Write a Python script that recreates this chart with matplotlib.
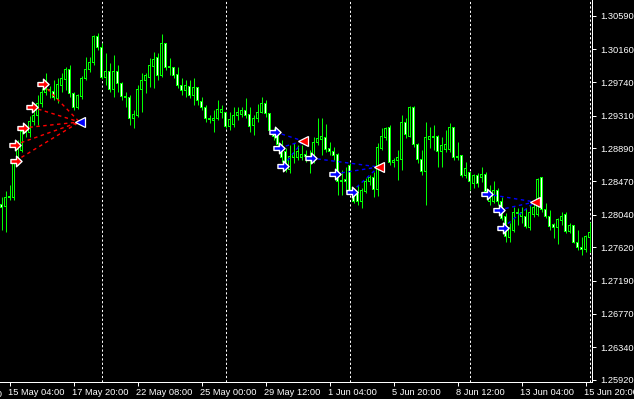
import matplotlib
matplotlib.use("Agg")
import matplotlib.pyplot as plt
from matplotlib import font_manager
from matplotlib.path import Path
import matplotlib.transforms as mtransforms

# narrow face for the MT4 look, if there is one
installed = set(f.name for f in font_manager.fontManager.ttflist)
font_size = 7.3
if 'Liberation Sans Narrow' in installed:
    plt.rcParams['font.family'] = ['Liberation Sans Narrow', 'DejaVu Sans']
elif 'DejaVu Sans Condensed' in installed:
    plt.rcParams['font.family'] = ['DejaVu Sans Condensed', 'DejaVu Sans']
    font_size = 6.8
else:
    plt.rcParams['font.family'] = ['Liberation Sans', 'DejaVu Sans']
    font_size = 6.7

# H4 candles, oldest first
opens = [1.28165, 1.28152, 1.28255, 1.28255, 1.28717, 1.28858, 1.29102, 1.29089, 1.29230, 1.29307,
         1.29461, 1.29602, 1.29641, 1.29615, 1.29525, 1.29692, 1.29769, 1.29897, 1.29589, 1.29422,
         1.29551, 1.29782, 1.29897, 1.29987, 1.30321, 1.30180, 1.29795, 1.29872, 1.29641, 1.29872,
         1.29718, 1.29551, 1.29538, 1.29281, 1.29307, 1.29641, 1.29756, 1.29795, 1.29948, 1.30051,
         1.29820, 1.30231, 1.29936, 1.29923, 1.29833, 1.29692, 1.29628, 1.29679, 1.29576, 1.29666,
         1.29499, 1.29410, 1.29269, 1.29243, 1.29281, 1.29346, 1.29346, 1.29166, 1.29192, 1.29307,
         1.29320, 1.29371, 1.29320, 1.29179, 1.29269, 1.29358, 1.29461, 1.29333, 1.29127, 1.29063,
         1.28896, 1.28845, 1.28614, 1.28768, 1.28768, 1.28768, 1.28807, 1.28781, 1.28743, 1.28973,
         1.28999, 1.29025, 1.28884, 1.28845, 1.28807, 1.28473, 1.28486, 1.28678, 1.28332, 1.28319,
         1.28204, 1.28332, 1.28460, 1.28512, 1.28358, 1.28896, 1.29025, 1.29153, 1.28704, 1.28730,
         1.28743, 1.29217, 1.29050, 1.29410, 1.28935, 1.28743, 1.28601, 1.28999, 1.29025, 1.29038,
         1.28845, 1.28871, 1.28871, 1.29153, 1.28768, 1.28794, 1.28537, 1.28576, 1.28447, 1.28537,
         1.28512, 1.28550, 1.28216, 1.28204, 1.28345, 1.28216, 1.28011, 1.27742, 1.27844, 1.28063,
         1.28011, 1.28011, 1.27870, 1.28037, 1.28037, 1.28512, 1.28101, 1.28011, 1.27909, 1.27870,
         1.27960, 1.28037, 1.27819, 1.27896, 1.27690, 1.27626, 1.27588, 1.27742]
highs = [1.28268, 1.28345, 1.28422, 1.28730, 1.28999, 1.29166, 1.29192, 1.29307, 1.29384, 1.29576,
         1.29666, 1.29859, 1.29692, 1.29769, 1.29795, 1.29859, 1.29936, 1.29961, 1.29615, 1.29589,
         1.29820, 1.30064, 1.30064, 1.30346, 1.30372, 1.30244, 1.30115, 1.29987, 1.30090, 1.29961,
         1.29743, 1.29615, 1.29576, 1.29384, 1.29705, 1.29859, 1.29859, 1.30051, 1.30128, 1.30115,
         1.30359, 1.30244, 1.30051, 1.29936, 1.29936, 1.29795, 1.29769, 1.29769, 1.29795, 1.29679,
         1.29551, 1.29448, 1.29320, 1.29384, 1.29512, 1.29448, 1.29358, 1.29358, 1.29422, 1.29422,
         1.29422, 1.29538, 1.29422, 1.29320, 1.29461, 1.29551, 1.29512, 1.29346, 1.29153, 1.29127,
         1.28999, 1.28896, 1.28935, 1.28961, 1.28935, 1.28935, 1.28871, 1.28871, 1.29038, 1.29281,
         1.29281, 1.29204, 1.28973, 1.28909, 1.28832, 1.28614, 1.28653, 1.28704, 1.28383, 1.28422,
         1.28383, 1.28512, 1.28550, 1.28589, 1.28961, 1.29153, 1.29166, 1.29192, 1.28768, 1.28871,
         1.29320, 1.29281, 1.29435, 1.29435, 1.28961, 1.28871, 1.29230, 1.29166, 1.29192, 1.29063,
         1.29038, 1.29127, 1.29217, 1.29166, 1.28973, 1.28807, 1.28717, 1.28589, 1.28563, 1.28576,
         1.28653, 1.28589, 1.28422, 1.28473, 1.28383, 1.28268, 1.28063, 1.27934, 1.28139, 1.28127,
         1.28139, 1.28127, 1.28165, 1.28229, 1.28512, 1.28524, 1.28191, 1.28101, 1.27934, 1.27998,
         1.28075, 1.28075, 1.27934, 1.27909, 1.27844, 1.27755, 1.27780, 1.27947]
lows = [1.27844, 1.27819, 1.28229, 1.28229, 1.28678, 1.28845, 1.29038, 1.29038, 1.29192, 1.29192,
        1.29422, 1.29576, 1.29538, 1.29512, 1.29474, 1.29615, 1.29641, 1.29551, 1.29384, 1.29397,
        1.29525, 1.29769, 1.29872, 1.29961, 1.30154, 1.29782, 1.29705, 1.29615, 1.29551, 1.29615,
        1.29512, 1.29422, 1.29192, 1.29153, 1.29294, 1.29358, 1.29602, 1.29679, 1.29666, 1.29769,
        1.29807, 1.29897, 1.29833, 1.29795, 1.29666, 1.29576, 1.29551, 1.29538, 1.29448, 1.29448,
        1.29384, 1.29230, 1.29217, 1.29102, 1.29256, 1.29281, 1.29153, 1.29127, 1.29166, 1.29256,
        1.29294, 1.29281, 1.29102, 1.29063, 1.29230, 1.29346, 1.29294, 1.29102, 1.28999, 1.28871,
        1.28717, 1.28589, 1.28576, 1.28704, 1.28743, 1.28743, 1.28717, 1.28576, 1.28704, 1.28935,
        1.28807, 1.28845, 1.28807, 1.28743, 1.28293, 1.28293, 1.28332, 1.28306, 1.28191, 1.28165,
        1.28127, 1.28319, 1.28422, 1.28268, 1.28281, 1.28871, 1.28999, 1.28678, 1.28653, 1.28486,
        1.28614, 1.29025, 1.29038, 1.28909, 1.28704, 1.28550, 1.28165, 1.28896, 1.28871, 1.28653,
        1.28653, 1.28845, 1.28845, 1.28743, 1.28743, 1.28524, 1.28512, 1.28358, 1.28383, 1.28396,
        1.28460, 1.28293, 1.28165, 1.28191, 1.28165, 1.27973, 1.27690, 1.27690, 1.27819, 1.27909,
        1.27934, 1.27870, 1.27844, 1.28011, 1.28024, 1.28075, 1.27998, 1.27844, 1.27742, 1.27665,
        1.27909, 1.27806, 1.27806, 1.27678, 1.27588, 1.27524, 1.27562, 1.27562]
closes = [1.28139, 1.28255, 1.28268, 1.28704, 1.28871, 1.29102, 1.29089, 1.29230, 1.29307, 1.29461,
          1.29602, 1.29641, 1.29628, 1.29538, 1.29705, 1.29782, 1.29897, 1.29589, 1.29422, 1.29564,
          1.29782, 1.29897, 1.29987, 1.30321, 1.30180, 1.29795, 1.29872, 1.29641, 1.29872, 1.29718,
          1.29551, 1.29538, 1.29281, 1.29320, 1.29653, 1.29756, 1.29820, 1.29961, 1.30038, 1.29820,
          1.30231, 1.29923, 1.29923, 1.29820, 1.29692, 1.29628, 1.29692, 1.29564, 1.29666, 1.29512,
          1.29410, 1.29269, 1.29256, 1.29281, 1.29384, 1.29384, 1.29166, 1.29256, 1.29307, 1.29346,
          1.29371, 1.29307, 1.29166, 1.29269, 1.29358, 1.29461, 1.29333, 1.29115, 1.29038, 1.28935,
          1.28768, 1.28640, 1.28781, 1.28832, 1.28845, 1.28807, 1.28781, 1.28730, 1.28973, 1.29012,
          1.29038, 1.28871, 1.28845, 1.28794, 1.28460, 1.28460, 1.28460, 1.28332, 1.28216, 1.28204,
          1.28345, 1.28460, 1.28512, 1.28358, 1.28909, 1.29038, 1.29140, 1.28704, 1.28730, 1.28768,
          1.29217, 1.29063, 1.29410, 1.28935, 1.28743, 1.28601, 1.29025, 1.29038, 1.29050, 1.28845,
          1.28922, 1.28935, 1.29153, 1.28768, 1.28781, 1.28537, 1.28627, 1.28460, 1.28537, 1.28435,
          1.28550, 1.28332, 1.28268, 1.28345, 1.28204, 1.27998, 1.27755, 1.27870, 1.28063, 1.28050,
          1.28063, 1.27883, 1.28063, 1.28127, 1.28486, 1.28101, 1.28011, 1.27883, 1.27870, 1.27973,
          1.28011, 1.27819, 1.27896, 1.27690, 1.27614, 1.27588, 1.27767, 1.27806]

# price scale and time scale
price_ticks = [1.30590, 1.30160, 1.29740, 1.29310, 1.28890, 1.28470,
               1.28040, 1.27620, 1.27190, 1.26770, 1.26340, 1.25920]
time_tick_bars = [2, 18, 34, 50, 66, 82, 98, 114, 130, 146]
time_labels = ['15 May 04:00', '17 May 20:00', '22 May 08:00', '25 May 00:00', '29 May 12:00',
               '1 Jun 04:00', '5 Jun 20:00', '8 Jun 12:00', '13 Jun 04:00', '15 Jun 20:00']
week_start_bars = [25, 56, 87, 117, 147]

# divergence signals: (bar, price) of arrows and their target triangle
sell_arrows = [(3.5, 1.28730), (3.25, 1.28935), (5.25, 1.29153), (7.5, 1.29422), (10.25, 1.29718)]
sell_target = (19.5, 1.29230)
buy_groups = [
    ([(68.4, 1.29102), (69.4, 1.28896), (70.4, 1.28666)], (75.4, 1.28986)),
    ([(77.25, 1.28768), (83.25, 1.28563), (87.5, 1.28332)], (94.25, 1.28653)),
    ([(121.25, 1.28306), (124.25, 1.28101), (125.25, 1.27870)], (133.3, 1.28204)),
]

LIME = '#00ff00'
PX = 0.72  # one pixel in points at dpi 100

fig = plt.figure(figsize=(6.34, 3.99), dpi=100, facecolor='black')
ax = fig.add_axes([0, 17 / 399, 592 / 634, 382 / 399])
ax.set_facecolor('black')
ax.set_xlim(-0.375, 147.625)
ax.set_ylim(1.25894, 1.30795)
pip_px = (1.30795 - 1.25894) / 382  # price per pixel, for the inner body inset

idx = list(range(len(opens)))
ax.vlines(idx, lows, highs, color=LIME, linewidth=PX, zorder=2)
bottoms = [min(o, c) for o, c in zip(opens, closes)]
heights = [abs(c - o) for o, c in zip(opens, closes)]
# lime outer body, 3 px wide
ax.bar(idx, [h + pip_px for h in heights], width=0.75, bottom=[b - pip_px / 2 for b in bottoms],
       color=LIME, linewidth=0, zorder=3)
# inner fill: black for bull, white for bear
fills = ['black' if c > o else 'white' for o, c in zip(opens, closes)]
inner_h = [max(h - pip_px, 0) for h in heights]
ax.bar(idx, inner_h, width=0.25, bottom=[b + pip_px / 2 for b in bottoms],
       color=fills, linewidth=0, zorder=4)

for b in week_start_bars:
    ax.axvline(b, color='white', linewidth=PX, linestyle=(0, (2.2, 2.2)), zorder=1)

# arrow marker (right pointing)
arrow = Path([(-1, -0.35), (0.0, -0.35), (0.0, -0.95), (1, 0), (0.0, 0.95), (0.0, 0.35),
              (-1, 0.35), (-1, -0.35)],
             [Path.MOVETO] + [Path.LINETO] * 6 + [Path.CLOSEPOLY])


def draw_signal(arrows, target, line_color, arrow_color, tri_color):
    for x, y in arrows:
        ax.plot([x, target[0]], [y, target[1]], color=line_color, linewidth=1.0,
                linestyle=(0, (2.5, 2.5)), zorder=5)
    ax.plot([a[0] for a in arrows], [a[1] for a in arrows], linestyle='none', marker=arrow,
            markersize=8, markerfacecolor=arrow_color, markeredgecolor='white',
            markeredgewidth=1.0, zorder=6)
    ax.plot([target[0]], [target[1]], linestyle='none', marker='<', markersize=7,
            markerfacecolor=tri_color, markeredgecolor='white', markeredgewidth=0.9, zorder=6)


draw_signal(sell_arrows, sell_target, 'red', 'red', 'blue')
for arrs, tgt in buy_groups:
    draw_signal(arrs, tgt, 'blue', 'blue', 'red')

for s in ['top', 'left']:
    ax.spines[s].set_visible(False)
for s in ['right', 'bottom']:
    ax.spines[s].set_color('white')
    ax.spines[s].set_linewidth(PX)

ax.yaxis.tick_right()
ax.set_yticks(price_ticks)
ax.set_yticklabels(['%.5f' % p for p in price_ticks])
ax.tick_params(axis='y', colors='white', length=3, width=PX, pad=3, labelsize=font_size)

ax.set_xticks(time_tick_bars)
ax.set_xticklabels(time_labels, ha='left')
ax.tick_params(axis='x', colors='white', length=3, width=PX, pad=1.5, labelsize=font_size)
offset = mtransforms.ScaledTranslation(-1 / 100, 0, fig.dpi_scale_trans)
for lab in ax.get_xticklabels():
    lab.set_transform(lab.get_transform() + offset)

# partially visible label at the left edge
ax.text(-14, -0.02, '11 May 12:00', transform=ax.get_xaxis_transform(), color='white',
        fontsize=font_size, ha='left', va='top', clip_on=False)

fig.savefig('out.png', dpi=100, facecolor='black')
